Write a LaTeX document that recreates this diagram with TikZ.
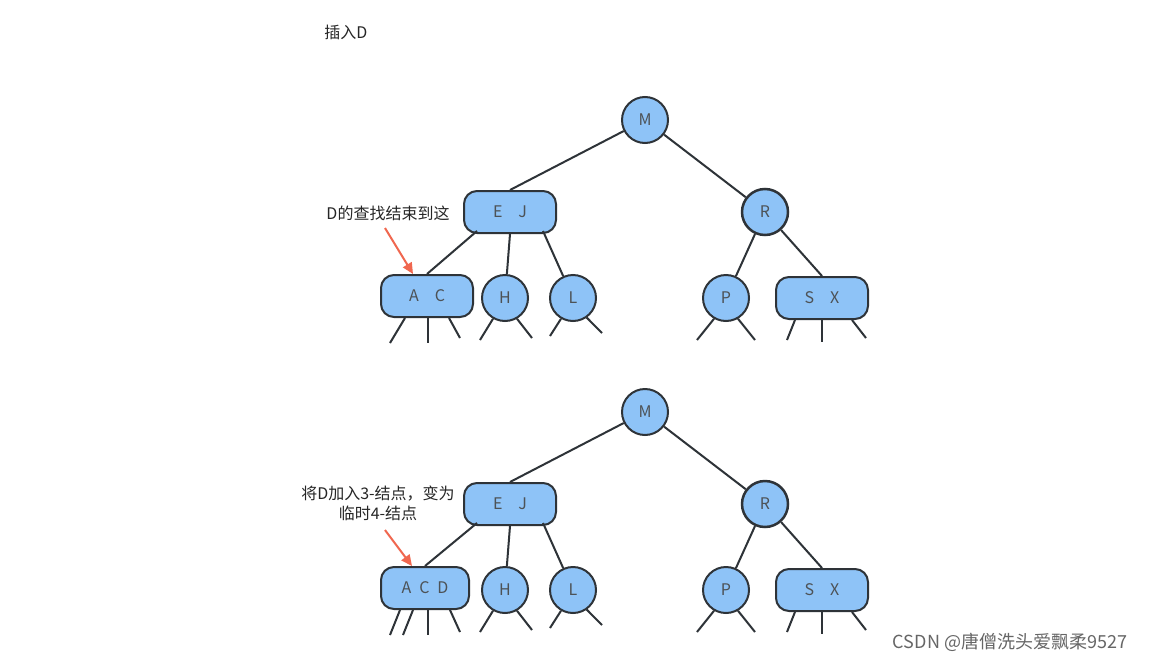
\documentclass[tikz,border=0pt]{standalone}
\usepackage{fontspec}
\setmainfont{Noto Sans CJK SC}
\usetikzlibrary{arrows.meta}
\definecolor{nf}{HTML}{8EC3F7}
\definecolor{nd}{HTML}{2E3338}
\definecolor{ar}{HTML}{F0674F}
\begin{document}
\begin{tikzpicture}[x=1pt,y=-1pt,
  c/.style={circle,draw=nd,fill=nf,line width=2pt,minimum size=46pt,inner sep=0pt,font=\fontsize{16}{18}\selectfont,text=nd!85},
  b/.style={rounded corners=13pt,draw=nd,fill=nf,line width=2pt,minimum width=92pt,minimum height=42pt,inner sep=0pt,font=\fontsize{16}{18}\selectfont,text=nd!85},
  e/.style={draw=nd,line width=2pt},
  lab/.style={font=\fontsize{16}{20}\selectfont,align=center,text=black!85},
  arr/.style={draw=ar,line width=2pt,-{Triangle[length=11pt,width=10pt]}}]
\useasboundingbox[fill=white] (0,0) rectangle (1162,664);
\node[lab] (t) at (346,32) {插入D};
\foreach \o/\s in {0/a,292/b}{
  \node[c] (M\s) at (645,120+\o) {M};
  \node[b] (EJ\s) at (510,212+\o) {E\quad J};
  \node[c,line width=2.5pt] (R\s) at (765,212+\o) {R};
  \node[c] (H\s) at (505,298+\o) {H};
  \node[c] (L\s) at (573,298+\o) {L};
  \node[c] (P\s) at (726,298+\o) {P};
  \node[b] (SX\s) at (822,298+\o) {S\quad X};
  \draw[e] (M\s) -- (EJ\s.north);
  \draw[e] (M\s) -- (R\s);
  \draw[e] (R\s) -- (P\s);
  \draw[e] (R\s) -- (SX\s.north);
  \draw[e] (EJ\s.south) -- (H\s);
  \draw[e] (EJ\s.south east) ++(-14,-3) -- (L\s);
  \coordinate (h1\s) at (480,340+\o); \coordinate (h2\s) at (532,338+\o);
  \draw[e] (H\s.240) -- (h1\s); \draw[e] (H\s.300) -- (h2\s);
  \coordinate (l1\s) at (550,336+\o); \coordinate (l2\s) at (602,333+\o);
  \draw[e] (L\s.240) -- (l1\s); \draw[e] (L\s.305) -- (l2\s);
  \coordinate (p1\s) at (697,340+\o); \coordinate (p2\s) at (755,340+\o);
  \draw[e] (P\s.240) -- (p1\s); \draw[e] (P\s.300) -- (p2\s);
  \coordinate (s1\s) at (787,340+\o); \coordinate (s2\s) at (822,342+\o); \coordinate (s3\s) at (866,338+\o);
  \draw[e] ([xshift=-27pt]SX\s.south) -- (s1\s);
  \draw[e] (SX\s.south) -- (s2\s);
  \draw[e] ([xshift=30pt]SX\s.south) -- (s3\s);
}
% top
\node[b] (AC) at (427,296) {A\quad C};
\draw[e] (EJa.south west) ++(14,-3) -- (AC.north);
\coordinate (a1) at (390,343); \coordinate (a2) at (428,343); \coordinate (a3) at (460,338);
\draw[e] ([xshift=-22pt]AC.south) -- (a1);
\draw[e] ([xshift=1pt]AC.south) -- (a2);
\draw[e] ([xshift=22pt]AC.south) -- (a3);
\node[lab] (q1) at (388,213) {D的查找结束到这};
\coordinate (qa1) at (385,228);
\draw[arr] (qa1) -- ([xshift=-14pt]AC.north);
% bottom
\node[b,minimum width=88pt] (ACD) at (425,588) {A\enspace C\enspace D};
\draw[e] (EJb.south west) ++(14,-3) -- (ACD.north);
\coordinate (d1) at (390,635); \coordinate (d2) at (403,635); \coordinate (d3) at (428,635); \coordinate (d4) at (460,632);
\draw[e] ([xshift=-25pt]ACD.south) -- (d1);
\draw[e] ([xshift=-12pt]ACD.south) -- (d2);
\draw[e] ([xshift=3pt]ACD.south) -- (d3);
\draw[e] ([xshift=25pt]ACD.south) -- (d4);
\node[lab] (q2) at (378,503) {将D加入3-结点，变为\\临时4-结点};
\coordinate (qa2) at (385,530);
\draw[arr] (qa2) -- ([xshift=-13pt]ACD.north);
\node[font=\fontsize{18}{20}\selectfont,text=black!60] (w) at (1010,642) {CSDN @唐僧洗头爱飘柔9527};
\end{tikzpicture}
\end{document}
